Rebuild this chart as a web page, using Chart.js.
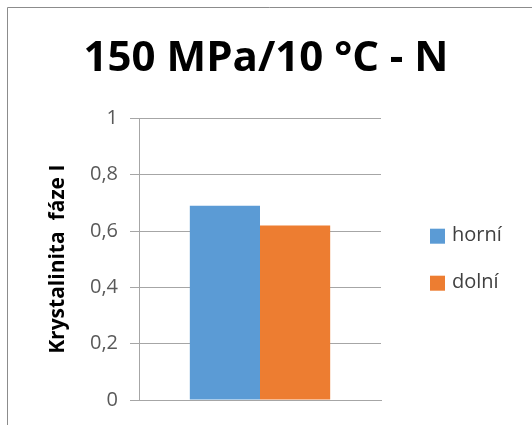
<!DOCTYPE html>
<html>
<head>
<meta charset="utf-8">
<script src="https://cdn.jsdelivr.net/npm/chart.js@4.4.1/dist/chart.umd.min.js"></script>
<style>
  html, body { margin: 0; padding: 0; background: #fff; }
  canvas { display: block; }
</style>
</head>
<body>
<canvas id="chart" width="532" height="425"></canvas>
<script>
// data
const categories = [''];
const seriesNames = ['horní', 'dolní'];
const horni = [0.69];
const dolni = [0.62];
const yTicks = [0, 0.2, 0.4, 0.6, 0.8, 1];

const FONT = "'Open Sans', 'Liberation Sans', Arial, sans-serif";
const GRID = '#a6a6a6';

// grey frame along the top and left edge + white fill
const framePlugin = {
  id: 'frame',
  beforeDraw(chart) {
    const ctx = chart.ctx;
    ctx.save();
    ctx.fillStyle = '#fff';
    ctx.fillRect(0, 0, chart.width, chart.height);
    ctx.strokeStyle = '#8c8c8c';
    ctx.lineWidth = 1;
    ctx.beginPath();
    ctx.moveTo(7.5, chart.height);
    ctx.lineTo(7.5, 7.5);
    ctx.lineTo(chart.width, 7.5);
    ctx.stroke();
    ctx.restore();
  }
};

// legend to the right of the plot, drawn from the datasets
const sideLegend = {
  id: 'sideLegend',
  afterDraw(chart) {
    const ctx = chart.ctx;
    const area = chart.chartArea;
    const sets = chart.data.datasets;
    const gap = 47;
    const mid = (area.top + area.bottom) / 2;
    const y0 = mid - gap * (sets.length - 1) / 2;
    ctx.save();
    ctx.font = '20px ' + FONT;
    ctx.textBaseline = 'middle';
    ctx.textAlign = 'left';
    sets.forEach((ds, i) => {
      const y = y0 + i * gap;
      ctx.fillStyle = ds.backgroundColor;
      ctx.fillRect(430, y - 7, 15, 15);
      ctx.fillStyle = '#404040';
      ctx.fillText(ds.label, 452, y);
    });
    ctx.restore();
  }
};

new Chart(document.getElementById('chart').getContext('2d'), {
  type: 'bar',
  data: {
    labels: categories,
    datasets: [{
      label: seriesNames[0],
      data: horni,
      backgroundColor: '#5b9bd5'
    }, {
      label: seriesNames[1],
      data: dolni,
      backgroundColor: '#ed7d31'
    }]
  },
  options: {
    responsive: false,
    animation: false,
    layout: { padding: { top: 0, left: 0, right: 0, bottom: 17 } },
    datasets: {
      bar: { categoryPercentage: 0.58, barPercentage: 1 }
    },
    plugins: {
      legend: { display: false },
      tooltip: { enabled: false },
      title: {
        display: true,
        text: '150 MPa/10 °C - N',
        color: '#000',
        font: { family: FONT, size: 42, weight: 'bold' },
        padding: { top: 34, bottom: 34 }
      }
    },
    scales: {
      x: {
        grid: { display: false },
        ticks: { display: false },
        border: { display: true, color: GRID }
      },
      y: {
        min: 0,
        max: 1,
        afterBuildTicks: s => { s.ticks = yTicks.map(v => ({ value: v })); },
        afterFit: s => { s.width = 139; },
        ticks: {
          padding: 12,
          color: '#595959',
          font: { family: FONT, size: 20 },
          callback: v => String(Number(v.toFixed(1))).replace('.', ',')
        },
        grid: { color: GRID, lineWidth: 1, tickLength: 9 },
        border: { display: true, color: GRID },
        title: {
          display: true,
          text: 'Krystalinita  fáze I',
          color: '#000',
          font: { family: FONT, size: 21, weight: 'bold' },
          padding: { top: 45, bottom: 0 }
        }
      },
      // empty axis on the right that keeps room for the legend
      side: {
        position: 'right',
        afterFit: s => { s.width = 151; },
        grid: { display: false },
        ticks: { display: false },
        border: { display: false }
      }
    }
  },
  plugins: [framePlugin, sideLegend]
});
</script>
</body>
</html>
